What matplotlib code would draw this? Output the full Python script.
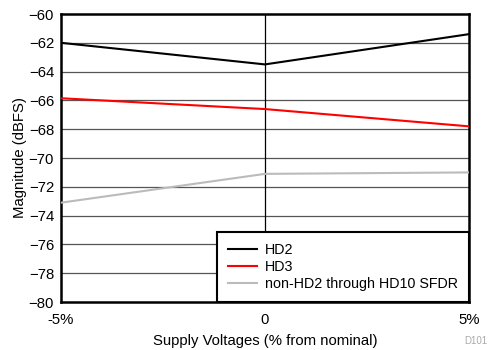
import numpy as np
import matplotlib
matplotlib.use('Agg')
import matplotlib.pyplot as plt

plt.rcParams['font.family'] = ['Liberation Sans', 'DejaVu Sans']

# Daten
supply = [-5, 0, 5]
xticklabels = ['-5%', '0', '5%']
hd2 = [-62.0, -63.5, -61.4]
hd3 = [-65.85, -66.6, -67.8]
sfdr = [-73.1, -71.1, -71.0]

fs = 10.7
fig = plt.figure(figsize=(4.92, 3.5), dpi=100)
ax = fig.add_axes([0.124, 0.137, 0.829, 0.823])

# Gitter
for yv in np.arange(-78, -60, 2):
    ax.axhline(yv, color='#555555', lw=0.9, zorder=1)
ax.axvline(0, color='black', lw=0.9, zorder=1)

ax.plot(supply, hd2, color='black', lw=1.5, label='HD2', zorder=3)
ax.plot(supply, hd3, color='#ff0000', lw=1.5, label='HD3', zorder=3)
ax.plot(supply, sfdr, color='#bbbbbb', lw=1.5, label='non-HD2 through HD10 SFDR', zorder=3)

ax.set_xlim(-5, 5)
ax.set_ylim(-80, -60)
ax.set_xticks(supply)
ax.set_xticklabels(xticklabels)
ax.set_yticks(np.arange(-80, -59, 2))
ax.tick_params(axis='x', length=0, labelsize=fs, pad=8)
ax.tick_params(axis='y', length=0, labelsize=fs, pad=5)
for s in ax.spines.values():
    s.set_linewidth(1.8)

ax.set_xlabel('Supply Voltages (% from nominal)', fontsize=fs, labelpad=5)
ax.set_ylabel('Magnitude (dBFS)', fontsize=fs, labelpad=1)

leg = ax.legend(loc='lower right', fontsize=10.3, frameon=True, fancybox=False,
                borderaxespad=0, handlelength=2.0, labelspacing=0.22,
                borderpad=0.75, handletextpad=0.6)
leg.get_frame().set_edgecolor('black')
leg.get_frame().set_linewidth(1.5)
leg.get_frame().set_alpha(1)

fig.text(0.99, 0.01, 'D101', color='#aaaaaa', fontsize=7, ha='right', va='bottom')

fig.savefig('out.png', dpi=100)
